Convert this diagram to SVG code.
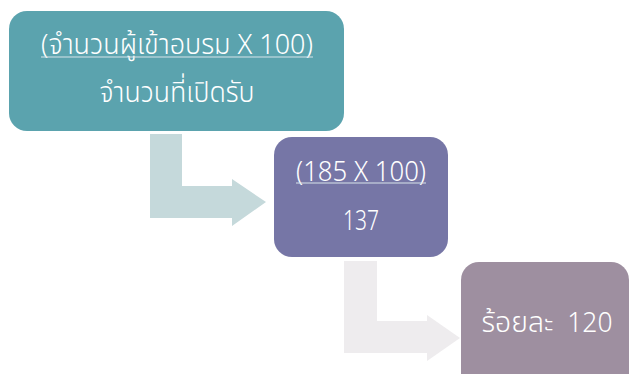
<svg xmlns="http://www.w3.org/2000/svg" width="630" height="374" viewBox="0 0 630 374">
<style>
.t{font-family:"Noto Sans Thai","Noto Sans","DejaVu Sans",sans-serif;font-size:29px;font-weight:300;fill:#FFFFFF;text-anchor:middle}
.n{font-size:27px}
.u{stroke:#D8E4EA;stroke-width:1}
</style>
<rect width="630" height="374" fill="#FFFFFF"/>
<g id="connectors">
<path d="M150,134 H182 V186 H232 V179 L266,202 L232,226 V218 H150 Z" fill="#C5D9DB"/>
<path d="M344,261 H377 V321 H427 V315 L460,338 L427,361 V353 H344 Z" fill="#EEECEE"/>
</g>
<g id="node1">
<rect x="9" y="11" width="335" height="120" rx="18" fill="#5BA3AE"/>
<text class="t" x="177" y="54" style="font-size:28px" textLength="272" lengthAdjust="spacingAndGlyphs">(จำนวนผู้เข้าอบรม X 100)</text>
<line class="u" x1="41" y1="57" x2="313" y2="57"/>
<text class="t" x="177" y="102" textLength="155" lengthAdjust="spacingAndGlyphs">จำนวนที่เปิดรับ</text>
</g>
<g id="node2">
<rect x="274" y="137" width="174" height="120" rx="18" fill="#7676A6"/>
<text class="t n" x="361" y="181" textLength="130" lengthAdjust="spacingAndGlyphs">(185 X 100)</text>
<line class="u" x1="296" y1="183" x2="426" y2="183"/>
<text class="t n" x="361" y="230" textLength="36" lengthAdjust="spacingAndGlyphs">137</text>
</g>
<g id="node3">
<rect x="461" y="262" width="168" height="130" rx="18" fill="#9E8FA0"/>
<text class="t" x="547" y="332" textLength="131" lengthAdjust="spacingAndGlyphs" xml:space="preserve">ร้อยละ<tspan class="n">  120</tspan></text>
</g>
</svg>
